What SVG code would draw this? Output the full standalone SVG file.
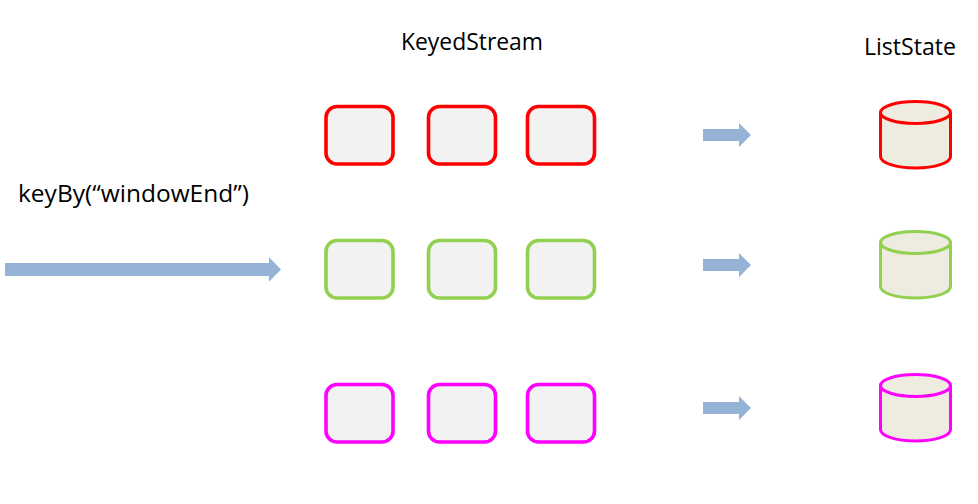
<svg xmlns="http://www.w3.org/2000/svg" width="978" height="504" viewBox="0 0 978 504">
<style>
text{font-family:"Open Sans","Noto Sans","Liberation Sans",sans-serif;font-size:23.500px;fill:#000}
.box{fill:#f2f2f2;stroke-width:3.600}
.cyl{fill:#eeece1;stroke-width:3}
.arrow{fill:#95b3d7}
.red{stroke:#ff0000}.green{stroke:#92d050}.pink{stroke:#ff00ff}
</style>
<defs>
<rect id="b" class="box" width="67" height="57.500" rx="11" ry="11"/>
<g id="c"><path d="M0 11V55C0 61.500 15.500 66.500 35 66.500S70 61.500 70 55V11"/><ellipse cx="35" cy="11" rx="35" ry="11"/></g>
<path id="a" class="arrow" d="M0 -6H36V-12L48 0L36 12V6H0Z"/>
</defs>
<rect width="978" height="504" fill="#fff"/>
<g id="connectors">
<path class="arrow" d="M5 263H269V257.300L281 269.500L269 281.700V276H5Z"/>
<use href="#a" x="703" y="135"/>
<use href="#a" x="703" y="265"/>
<use href="#a" x="703" y="408"/>
</g>
<g id="label-keyby"><text x="18" y="202" textLength="231" lengthAdjust="spacingAndGlyphs">keyBy(“windowEnd”)</text></g>
<g id="label-keyedstream"><text x="401" y="50" textLength="142" lengthAdjust="spacingAndGlyphs">KeyedStream</text></g>
<g id="label-liststate"><text x="864" y="55" textLength="92" lengthAdjust="spacingAndGlyphs">ListState</text></g>
<g id="box-r1" class="red"><use href="#b" x="326" y="106.500"/></g>
<g id="box-r2" class="red"><use href="#b" x="428.500" y="106.500"/></g>
<g id="box-r3" class="red"><use href="#b" x="527.500" y="106.500"/></g>
<g id="box-g1" class="green"><use href="#b" x="326" y="240.500"/></g>
<g id="box-g2" class="green"><use href="#b" x="428.500" y="240.500"/></g>
<g id="box-g3" class="green"><use href="#b" x="527.500" y="240.500"/></g>
<g id="box-p1" class="pink"><use href="#b" x="326" y="384.500"/></g>
<g id="box-p2" class="pink"><use href="#b" x="428.500" y="384.500"/></g>
<g id="box-p3" class="pink"><use href="#b" x="527.500" y="384.500"/></g>
<g id="state-red" class="cyl red"><use href="#c" x="880.500" y="101.500"/></g>
<g id="state-green" class="cyl green"><use href="#c" x="880.500" y="231.500"/></g>
<g id="state-pink" class="cyl pink"><use href="#c" x="880.500" y="374.500"/></g>
</svg>
